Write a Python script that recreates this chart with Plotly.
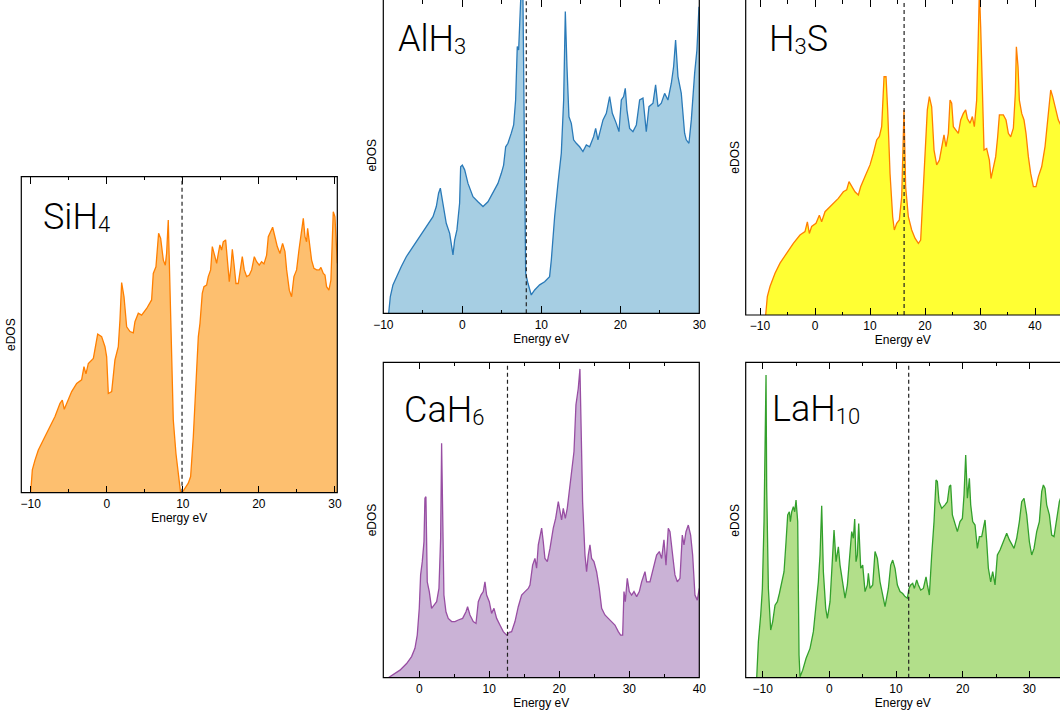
import plotly.graph_objects as go

W, H = 1060, 713

# ---------------- data: energy (eV) vs eDOS (arb. units, 100 = top of panel) ----------------
sih4_energy = [-10.0, -9.78, -9.43, -8.99, -8.34, -7.46, -6.80, -6.14, -5.84, -5.58, -5.27, -4.61, -3.95,
               -3.30, -2.99, -2.73, -2.42, -1.76, -1.19, -0.67, -0.23, -0.01, 0.21, 0.65, 1.08, 1.52, 1.74,
               1.96, 2.27, 2.62, 3.06, 3.49, 3.71, 4.15, 4.59, 5.25, 5.90, 6.12, 6.47, 6.82, 7.09, 7.44,
               7.70, 7.87, 8.09, 8.31, 8.53, 8.75, 9.10, 9.41, 9.71, 10.07, 10.28, 10.72, 11.03, 11.38,
               11.82, 12.04, 12.26, 12.56, 12.78, 13.13, 13.35, 13.66, 13.88, 14.23, 14.45, 14.67, 14.88,
               15.10, 15.32, 15.63, 15.85, 16.11, 16.33, 16.51, 16.72, 16.99, 17.29, 17.51, 17.82, 18.08,
               18.39, 18.74, 19.05, 19.40, 19.70, 20.05, 20.36, 20.67, 21.02, 21.24, 21.54, 21.81, 22.11,
               22.42, 22.77, 23.12, 23.43, 23.65, 24.00, 24.30, 24.61, 24.96, 25.27, 25.62, 25.84, 26.06,
               26.27, 26.41, 26.71, 26.93, 27.24, 27.59, 27.94, 28.16, 28.47, 28.69, 28.90, 29.21, 29.47,
               29.78, 30.00, 30.31]
sih4_dos = [0.0, 7.2, 10.3, 13.5, 16.7, 20.9, 24.1, 28.3, 29.3, 26.4, 28.3, 32.0, 34.6,
            35.7, 39.9, 37.6, 40.9, 42.5, 50.2, 49.4, 46.2, 43.0, 31.4, 32.0, 42.0, 46.2, 54.6,
            66.5, 62.0, 52.5, 51.0, 50.6, 54.1, 56.8, 56.2, 58.3, 61.0, 69.4, 71.5, 82.1, 80.5, 73.6,
            72.0, 75.7, 86.3, 65.2, 38.8, 23.0, 12.4, 5.1, 0.0, 0.6, 1.4, 3.0, 5.1, 17.7,
            38.8, 49.4, 53.6, 63.1, 65.2, 65.7, 68.4, 70.5, 77.9, 74.2, 72.6, 75.7, 78.4,
            76.8, 79.4, 80.0, 73.6, 66.8, 71.5, 77.0, 72.6, 66.2, 66.2, 70.5, 74.7, 70.5,
            68.4, 68.9, 70.5, 74.7, 73.1, 72.0, 73.1, 72.4, 75.2, 81.0, 82.6, 84.0, 81.0,
            77.9, 75.7, 78.9, 76.3, 70.5, 64.1, 62.0, 68.4, 70.5, 76.8, 84.2, 86.8, 81.0,
            79.4, 83.7, 76.8, 73.6, 71.0, 70.5, 70.5, 71.3, 69.4, 68.9, 65.2, 64.1, 67.3,
            88.9, 87.3, 72.6]

alh3_energy = [-9.32, -9.11, -8.78, -8.35, -7.72, -7.09, -6.24, -5.40, -4.56, -3.71, -3.29, -3.00, -2.78,
               -2.53, -2.03, -1.60, -1.18, -0.97, -0.68, -0.34, -0.21, 0.0, 0.30, 0.72, 1.35, 1.98, 2.62,
               3.25, 3.88, 4.51, 4.94, 5.23, 5.49, 5.78, 6.20, 6.50, 6.75, 6.96, 7.13, 7.34, 7.47, 7.68,
               7.81, 8.02, 8.31, 8.73, 9.16, 9.79, 10.42, 11.05, 11.27, 11.69, 12.11, 12.53, 12.83, 13.04,
               13.25, 13.50, 13.80, 14.09, 14.43, 14.85, 15.27, 15.70, 16.12, 16.62, 16.88, 17.17, 17.81,
               18.23, 18.65, 18.99, 19.49, 19.83, 20.13, 20.42, 20.63, 20.84, 21.18, 21.60, 22.03, 22.45,
               22.87, 23.29, 23.63, 24.14, 24.47, 24.77, 25.19, 25.61, 26.03, 26.46, 26.75, 27.00, 27.30,
               27.72, 28.14, 28.35, 28.69, 28.99, 29.41, 29.70, 29.96]
alh3_dos = [0.0, 5.3, 9.0, 11.6, 14.8, 17.9, 21.1, 24.3, 27.4, 30.6, 33.8, 38.0, 39.6,
            35.9, 28.5, 25.3, 18.5, 23.2, 26.4, 34.8, 46.4, 46.9, 45.4, 41.1, 36.9, 35.3, 33.8,
            35.3, 38.0, 41.1, 44.3, 46.9, 52.7, 53.8, 57.0, 59.6, 67.5, 84.4, 83.3, 93.9, 104.0, 99.2,
            57.0, 12.7, 9.5, 5.8, 7.4, 9.0, 10.0, 11.6, 16.9, 30.6, 41.1, 50.6, 67.5, 95.5,
            78.1, 62.2, 60.1, 54.9, 53.8, 52.7, 51.2, 53.3, 52.7, 55.9, 58.5, 54.9, 61.2,
            63.3, 68.6, 63.3, 60.1, 57.5, 67.5, 68.6, 71.2, 64.3, 58.5, 57.5, 59.6, 67.5,
            68.1, 57.5, 65.4, 66.5, 72.3, 65.4, 66.5, 69.6, 67.5, 72.8, 78.1, 86.5, 74.9,
            69.6, 57.0, 54.9, 53.8, 61.2, 76.0, 83.3, 97.0]

h3s_energy = [-8.97, -8.67, -8.18, -7.27, -6.36, -5.15, -3.94, -2.73, -1.82, -1.39, -1.03, -0.61, 0.18,
              0.79, 1.21, 1.82, 2.73, 3.64, 4.24, 5.15, 5.76, 6.18, 6.67, 7.27, 7.88, 8.30, 9.09, 10.00,
              10.61, 11.21, 11.70, 12.12, 12.55, 12.91, 13.21, 13.64, 14.12, 14.42, 14.85, 15.33, 15.76,
              16.06, 16.18, 16.48, 16.97, 17.58, 18.18, 18.79, 19.21, 19.58, 20.00, 20.42, 20.79, 21.21,
              21.64, 22.12, 22.61, 23.03, 23.45, 23.82, 24.24, 24.55, 24.85, 25.15, 25.64, 26.06, 26.48,
              26.97, 27.39, 27.70, 28.18, 28.61, 28.97, 29.39, 29.70, 29.88, 30.12, 30.42, 30.73, 31.21,
              31.70, 32.00, 32.42, 32.85, 33.21, 33.52, 34.24, 34.73, 35.15, 35.58, 36.06, 36.42, 36.61,
              36.91, 37.15, 37.58, 38.00, 38.36, 38.79, 39.21, 39.70, 40.18, 40.61, 41.21, 41.82, 42.42,
              42.85, 43.21, 43.64, 44.24, 44.85]
h3s_dos = [0.0, 5.8, 9.0, 13.2, 16.4, 19.5, 22.7, 25.3, 26.4, 29.5, 25.8, 28.0, 29.0,
           31.6, 29.5, 32.7, 34.3, 35.9, 36.9, 39.0, 39.6, 42.2, 40.6, 39.0, 38.0, 40.6, 43.8, 47.5,
           51.2, 55.4, 56.5, 59.6, 75.4, 75.4, 64.9, 44.8, 31.1, 26.9, 29.0, 30.1, 37.4,
           55.4, 64.9, 40.6, 31.1, 26.9, 24.3, 22.7, 23.7, 36.4, 52.2, 64.9, 69.1, 65.9,
           52.2, 47.5, 49.0, 53.3, 57.0, 53.3, 57.5, 68.0, 67.0, 59.6, 58.5, 57.5, 61.7,
           63.8, 64.9, 62.2, 60.7, 62.8, 59.6, 68.0, 89.1, 103.0, 91.2, 68.0, 52.2, 52.7,
           49.0, 43.2, 46.9, 50.1, 56.4, 63.3, 63.3, 61.7, 57.5, 56.4, 59.1, 70.2, 84.9,
           78.6, 68.0, 63.8, 61.7, 57.5, 50.1, 44.8, 40.6, 40.6, 43.8, 46.9, 53.3, 64.9,
           71.2, 69.1, 65.9, 61.7, 59.5]

cah6_energy = [-4.43, -3.71, -2.76, -1.81, -1.10, -0.62, -0.29, 0.0, 0.19, 0.43, 0.67, 0.81, 0.95, 1.14,
               1.43, 1.76, 2.10, 2.48, 2.81, 3.05, 3.19, 3.33, 3.52, 3.81, 4.14, 4.62, 5.10, 5.57, 6.19,
               6.67, 6.90, 7.24, 7.71, 8.10, 8.43, 8.81, 9.14, 9.38, 9.62, 10.00, 10.33, 10.67, 11.05,
               11.52, 12.00, 12.48, 12.86, 13.19, 13.67, 14.14, 14.62, 15.10, 15.57, 15.81, 16.19, 16.52,
               16.76, 17.00, 17.24, 17.48, 17.71, 17.95, 18.29, 18.67, 19.14, 19.48, 19.86, 20.10, 20.33,
               20.57, 20.86, 21.14, 21.52, 21.76, 22.10, 22.38, 22.71, 22.95, 23.10, 23.33, 23.67, 23.90,
               24.14, 24.38, 24.62, 24.95, 25.33, 25.71, 26.05, 26.52, 27.00, 27.48, 27.95, 28.43, 28.76,
               29.05, 29.24, 29.43, 29.71, 30.00, 30.33, 30.67, 31.05, 31.43, 31.76, 32.24, 32.48, 32.95,
               33.43, 33.90, 34.29, 34.62, 34.95, 35.24, 35.57, 35.81, 36.19, 36.52, 36.86, 37.24, 37.57,
               37.81, 38.10, 38.43, 38.76, 39.05, 39.38, 39.71, 40.00]
cah6_dos = [0.0, 1.1, 2.4, 4.5, 6.7, 9.3, 13.5, 22.0, 32.6, 36.8, 43.1, 56.9, 57.4, 30.4,
            27.3, 22.0, 23.0, 24.1, 28.3, 44.2, 74.3, 54.8, 26.2, 20.9, 18.8, 17.8, 17.8, 18.3, 18.8,
            20.9, 22.5, 19.9, 17.8, 17.2, 24.1, 26.2, 27.3, 30.4, 26.2, 24.1, 20.4, 22.0, 18.8,
            16.7, 14.6, 13.5, 14.4, 14.6, 17.8, 22.5, 26.2, 27.3, 28.3, 29.4, 35.7, 37.8,
            34.7, 42.1, 45.2, 47.4, 43.1, 37.8, 36.8, 41.0, 47.4, 50.5, 55.8, 52.6, 50.0,
            53.7, 50.5, 53.7, 61.1, 65.9, 71.7, 86.5, 91.7, 97.9, 81.2, 55.8, 38.9, 33.6,
            38.9, 42.1, 37.8, 36.8, 33.6, 28.3, 22.0, 19.9, 18.8, 17.8, 16.7, 14.6, 13.5,
            13.5, 27.3, 24.1, 31.5, 27.3, 26.2, 27.3, 25.7, 27.3, 30.4, 33.6, 30.4, 30.4,
            34.7, 38.9, 40.0, 37.8, 43.7, 35.7, 47.4, 46.3, 38.9, 32.6, 30.4, 31.5, 45.2,
            42.1, 46.3, 48.4, 45.2, 38.9, 26.2, 24.6, 28.3]

lah10_energy = [-10.9, -10.65, -10.3, -10.05, -9.80, -9.60, -9.50, -9.40, -9.15, -8.80, -8.50, -8.15, -7.80,
                -7.50, -7.15, -6.80, -6.50, -6.25, -6.00, -5.85, -5.65, -5.40, -5.20, -5.00, -4.75, -4.55,
                -4.40, -4.00, -3.50, -2.90, -2.40, -2.00, -1.65, -1.40, -1.15, -0.90, -0.55, -0.30, 0.10,
                0.35, 0.70, 1.00, 1.35, 1.60, 2.00, 2.35, 2.70, 3.10, 3.35, 3.60, 3.80, 4.00, 4.20, 4.40,
                4.70, 5.00, 5.35, 5.70, 5.85, 6.10, 6.50, 6.85, 7.20, 7.60, 8.00, 8.35, 8.85, 9.20, 9.50,
                9.85, 10.20, 10.60, 11.00, 11.35, 11.70, 11.95, 12.20, 12.50, 12.75, 13.10, 13.35, 13.70,
                14.10, 14.50, 14.70, 15.00, 15.35, 15.70, 16.00, 16.20, 16.45, 16.85, 17.35, 17.70, 18.00,
                18.20, 18.45, 18.85, 19.20, 19.60, 19.95, 20.20, 20.45, 20.70, 21.00, 21.20, 21.50, 21.85,
                22.20, 22.50, 22.85, 23.10, 23.35, 23.60, 23.85, 24.20, 24.50, 24.85, 25.20, 25.60, 26.10,
                26.60, 27.00, 27.35, 27.70, 28.10, 28.50, 28.85, 29.20, 29.60, 30.00, 30.35, 30.70, 31.10,
                31.50, 31.85, 32.10, 32.35, 32.60, 33.00, 33.35, 33.70, 34.10, 34.50, 34.85]
lah10_dos = [0.0, 11.4, 19.9, 28.3, 49.5, 81.2, 96.0, 60.0, 28.3, 15.1, 17.8, 23.0, 24.1,
             26.7, 30.4, 33.6, 43.1, 51.6, 52.6, 49.5, 52.6, 54.2, 52.6, 56.3, 49.5, 7.2,
             0.3, 2.4, 6.1, 9.3, 14.6, 22.0, 30.4, 38.9, 54.5, 33.6, 22.0, 18.8, 24.1,
             33.6, 46.8, 36.8, 41.5, 35.7, 30.4, 25.2, 29.4, 38.9, 46.3, 44.2, 50.3, 36.8, 38.9, 48.9,
             34.7, 35.7, 27.3, 29.4, 33.1, 28.3, 29.4, 40.0, 37.8, 30.4, 26.2, 22.5, 28.3, 35.7, 37.3,
             34.7, 29.4, 27.3, 26.7, 25.7, 25.2, 28.3, 29.4, 29.9, 28.3, 31.0, 29.4, 27.8,
             28.3, 32.0, 29.4, 26.2, 38.9, 49.5, 62.7, 62.2, 55.8, 53.7, 54.8, 55.8, 60.6,
             61.1, 51.6, 48.4, 46.3, 49.5, 50.5, 57.9, 70.6, 56.9, 63.2, 54.8, 49.5, 48.4,
             41.0, 44.7, 44.7, 47.4, 50.0, 43.1, 34.7, 30.4, 33.6, 29.4, 38.9, 40.5, 43.1,
             45.8, 43.7, 42.1, 41.0, 44.2, 49.5, 55.8, 56.9, 51.6, 43.1, 38.9, 41.0, 46.3,
             49.5, 59.0, 61.1, 60.0, 54.8, 51.6, 45.2, 44.7, 50.5, 55.8, 58.0]

# Fermi levels (eV)
sih4_fermi = 9.9
alh3_fermi = 8.1
h3s_fermi = 16.2
cah6_fermi = 12.6
lah10_fermi = 11.9

# Full energy window of each panel (eV)
sih4_window = [-11.23, 30.31]
alh3_window = [-10.0, 30.0]
h3s_window = [-12.6, 44.85]
cah6_window = [-5.14, 40.0]
lah10_window = [-12.55, 34.85]

# ---------------- layout of the panels ----------------
# box: pixel frame (left, top, right, bottom); name_at: pixel spot of the compound name (left, cap top)
SUB = "<span style='font-size:22px;baseline-shift:-3px'>{}</span>"
panels = [
    dict(label="SiH" + SUB.format("4"), box=(21.3, 176.7, 337.3, 492.7), name_at=(41, 205),
         window=sih4_window, energy=sih4_energy, dos=sih4_dos, fermi=sih4_fermi,
         line="#FF7F00", fill="#FDBF6F"),
    dict(label="AlH" + SUB.format("3"), box=(383.3, -2.7, 699.3, 313.3), name_at=(396, 27),
         window=alh3_window, energy=alh3_energy, dos=alh3_dos, fermi=alh3_fermi,
         line="#2A7AB8", fill="#A6CEE3"),
    dict(label="H" + SUB.format("3") + "S", box=(745.7, -1.0, 1061.7, 315.0), name_at=(767, 27),
         window=h3s_window, energy=h3s_energy, dos=h3s_dos, fermi=h3s_fermi,
         line="#FF7F00", fill="#FFFF33"),
    dict(label="CaH" + SUB.format("6"), box=(383.3, 362.3, 699.3, 677.7), name_at=(402, 398),
         window=cah6_window, energy=cah6_energy, dos=cah6_dos, fermi=cah6_fermi,
         line="#984EA3", fill="#CAB2D6"),
    dict(label="LaH" + SUB.format("10"), box=(745.7, 362.3, 1061.7, 677.7), name_at=(770, 397),
         window=lah10_window, energy=lah10_energy, dos=lah10_dos, fermi=lah10_fermi,
         line="#33A02C", fill="#B2DF8A"),
]

TEXT_FONT = "Liberation Sans, Arial, Helvetica, sans-serif"
TITLE_FONT = "Roboto, Lato, sans-serif"

fig = go.Figure()
shapes, annotations = [], []
layout_axes = {}

for i, p in enumerate(panels, start=1):
    l, t, r, b = p["box"]
    e0, e1 = p["window"]
    # clip the box to the page and carry the data range along with it
    cl, cr = max(l, 0.0), min(r, W)
    ct, cb = max(t, 0.0), min(b, H)
    ex = (e1 - e0) / (r - l)
    ey = 100.0 / (b - t)
    xr = [e0 + (cl - l) * ex, e0 + (cr - l) * ex]
    yr = [(b - cb) * ey, (b - ct) * ey]

    suffix = "" if i == 1 else str(i)
    xa, ya = "x" + suffix, "y" + suffix
    fig.add_trace(go.Scatter(
        x=p["energy"], y=p["dos"], mode="lines", fill="tozeroy",
        fillcolor=p["fill"], line=dict(color=p["line"], width=1.3),
        xaxis=xa, yaxis=ya, showlegend=False, hoverinfo="skip"))

    layout_axes["xaxis" + suffix] = dict(
        domain=[cl / W, cr / W], range=xr, anchor=ya, automargin=False,
        tick0=0, dtick=10, ticks="inside", ticklen=7, tickwidth=1, tickcolor="black",
        minor=dict(dtick=5, ticks="inside", ticklen=3.5, tickwidth=1, tickcolor="black"),
        showline=True, linecolor="rgba(0,0,0,0)", mirror="ticks",
        showgrid=False, zeroline=False,
        tickfont=dict(size=12, color="black", family=TEXT_FONT),
        title=dict(text="Energy eV", font=dict(size=12, color="black", family=TEXT_FONT), standoff=1),
    )
    layout_axes["yaxis" + suffix] = dict(
        domain=[1 - cb / H, 1 - ct / H], range=yr, anchor=xa, automargin=False,
        showticklabels=False, ticks="", showgrid=False, zeroline=False, showline=False,
    )

    # Fermi level
    shapes.append(dict(type="line", xref=xa, yref=ya + " domain", x0=p["fermi"], x1=p["fermi"],
                       y0=0, y1=1, line=dict(color="#222222", width=1.2, dash="4px,3px"), layer="above"))
    # panel frame
    shapes.append(dict(type="rect", xref="paper", yref="paper",
                       x0=l / W, x1=r / W, y0=1 - b / H, y1=1 - t / H,
                       line=dict(color="black", width=1.2), layer="above"))
    # eDOS label
    annotations.append(dict(text="eDOS", xref="paper", yref="paper", x=(l - 11) / W,
                            y=1 - ((t + b) / 2) / H, textangle=-90, showarrow=False,
                            xanchor="center", yanchor="middle",
                            font=dict(size=12, color="black", family=TEXT_FONT)))
    # compound name
    nx, ny = p["name_at"]
    annotations.append(dict(text=p["label"], xref="paper", yref="paper", x=nx / W,
                            y=1 - (ny - 11) / H, showarrow=False, xanchor="left", yanchor="top",
                            font=dict(size=36, color="black", family=TITLE_FONT, weight=300)))

fig.update_layout(
    width=W, height=H, margin=dict(l=0, r=0, t=0, b=0, pad=0, autoexpand=False),
    paper_bgcolor="white", plot_bgcolor="white",
    font=dict(family=TEXT_FONT, color="black"),
    shapes=shapes, annotations=annotations, showlegend=False,
    **layout_axes,
)

fig.write_html("out.html")
